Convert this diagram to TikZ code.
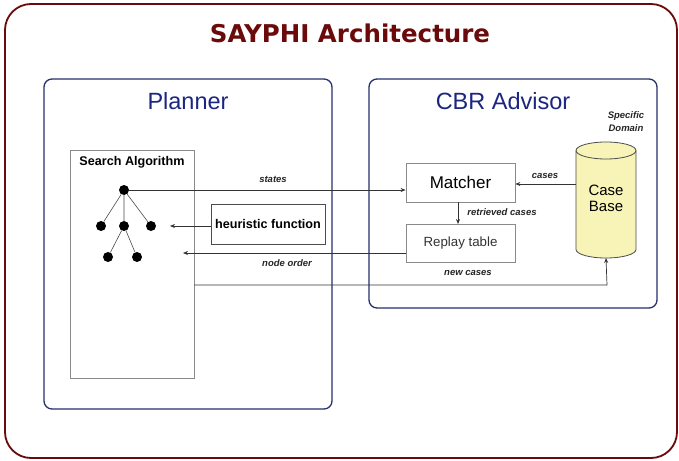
\documentclass[tikz,border=0pt]{standalone}
\usepackage{fontspec}
\setmainfont{Liberation Sans}
\newfontfamily\titlefont{DejaVu Sans}
\usetikzlibrary{arrows.meta}
\definecolor{frameRed}{HTML}{6B0A0A}
\definecolor{navy}{HTML}{26306E}
\definecolor{navyText}{HTML}{1C2580}
\definecolor{boxGray}{HTML}{8A8A8A}
\definecolor{caseYellow}{HTML}{F8F4B8}
\tikzset{
  panel/.style={draw=navy, line width=1.3pt, rounded corners=8pt},
  plainbox/.style={draw=boxGray, line width=0.8pt, inner sep=0pt},
  treedot/.style={circle, fill=black, inner sep=0pt, minimum size=10pt},
  treeedge/.style={draw=black!70, line width=0.6pt},
  flow/.style={draw=black!80, line width=0.7pt, -{Stealth[length=5pt,width=4pt]}},
  flowlabel/.style={font=\bfseries\itshape\fontsize{9.5}{11}\selectfont, text=black!85, inner sep=1pt},
}
\begin{document}
\begin{tikzpicture}[x=1pt, y=-1pt]
\useasboundingbox (0,0) rectangle (679,460);
\fill[white] (0,0) rectangle (679,460);

% outer frame and title
\draw[frameRed, line width=1.8pt, rounded corners=26pt] (5,4) rectangle (677,458);
\node[font=\titlefont\bfseries\fontsize{24.5}{28}\selectfont, text=frameRed] (title) at (350,33) {SAYPHI Architecture};

% the two panels
\draw[panel] (44,79) rectangle (332,409);
\draw[panel] (369,79) rectangle (657,308);
\node[font=\fontsize{23.5}{27}\selectfont, text=navyText] (planner) at (188,101) {Planner};
\node[font=\fontsize{23.5}{27}\selectfont, text=navyText] (cbr) at (503,101) {CBR Advisor};

% search algorithm box with its tree
\node[plainbox, minimum width=124pt, minimum height=228pt] (search) at (132,264) {};
\node[font=\bfseries\fontsize{12.6}{14}\selectfont] (searchlbl) at (132,162) {Search Algorithm};
\node[treedot] (r) at (124,190) {};
\node[treedot] (a) at (101,226) {};
\node[treedot] (b) at (124,226) {};
\node[treedot] (c) at (151,226) {};
\node[treedot] (d) at (108,257) {};
\node[treedot] (e) at (137,257) {};
\draw[treeedge] (r) -- (a) (r) -- (b) (r) -- (c) (b) -- (d) (b) -- (e);

% heuristic function
\node[plainbox, draw=black!70, minimum width=114pt, minimum height=40pt, font=\bfseries\fontsize{12.6}{14}\selectfont] (heur) at (268,224) {heuristic function};
\coordinate (heurtip) at (170,226);
\draw[flow] (heur.west |- heurtip) -- (heurtip);

% CBR advisor parts
\node[plainbox, minimum width=109pt, minimum height=39pt, font=\fontsize{17}{20}\selectfont] (matcher) at (460.5,182.5) {Matcher};
\node[plainbox, minimum width=109pt, minimum height=38pt, font=\fontsize{13.3}{15}\selectfont, text=black!80] (replay) at (460.5,243) {Replay table};

% case base drawn as a cylinder
\fill[caseYellow] (576,150.5) -- (576,249.5) arc[start angle=180, end angle=360, x radius=30, y radius=-8.5]
  -- (636,150.5) arc[start angle=0, end angle=180, x radius=30, y radius=-8.5] -- cycle;
\draw[black!70, line width=0.8pt] (576,150.5) -- (576,249.5) arc[start angle=180, end angle=360, x radius=30, y radius=-8.5]
  -- (636,150.5);
\draw[black!70, line width=0.8pt] (606,150.5) ellipse[x radius=30, y radius=8.5];
\coordinate (cbwest) at (576,184);
\coordinate (cbsouth) at (606,258);
\node[font=\fontsize{15}{17}\selectfont, align=center] (cblbl) at (606,198.5) {Case\\[-1.5pt]Base};
\node[flowlabel, align=center, font=\bfseries\itshape\fontsize{9.5}{13}\selectfont] (domain) at (626,122) {Specific\\Domain};

% connectors
\coordinate (statesin) at (matcher.west |- r);
\draw[flow] (r) -- (statesin);
\node[flowlabel] (stateslbl) at (273,179) {states};

\draw[flow] (cbwest) -- (matcher.east |- cbwest);
\node[flowlabel] (caseslbl) at (545,176) {cases};

\draw[flow] (458,202) -- (458,224);
\node[flowlabel] (retrlbl) at (502,212) {retrieved cases};

\coordinate (ordertip) at (183,253);
\draw[flow] (replay.west |- ordertip) -- (ordertip);
\node[flowlabel] (orderlbl) at (287,263) {node order};

\coordinate (newstart) at (search.east |- 0,285);
\coordinate (newcorner) at (607,285);
\draw[flow] (newstart) -- (newcorner) -- (cbsouth);
\node[flowlabel] (newlbl) at (468,273) {new cases};
\end{tikzpicture}
\end{document}
